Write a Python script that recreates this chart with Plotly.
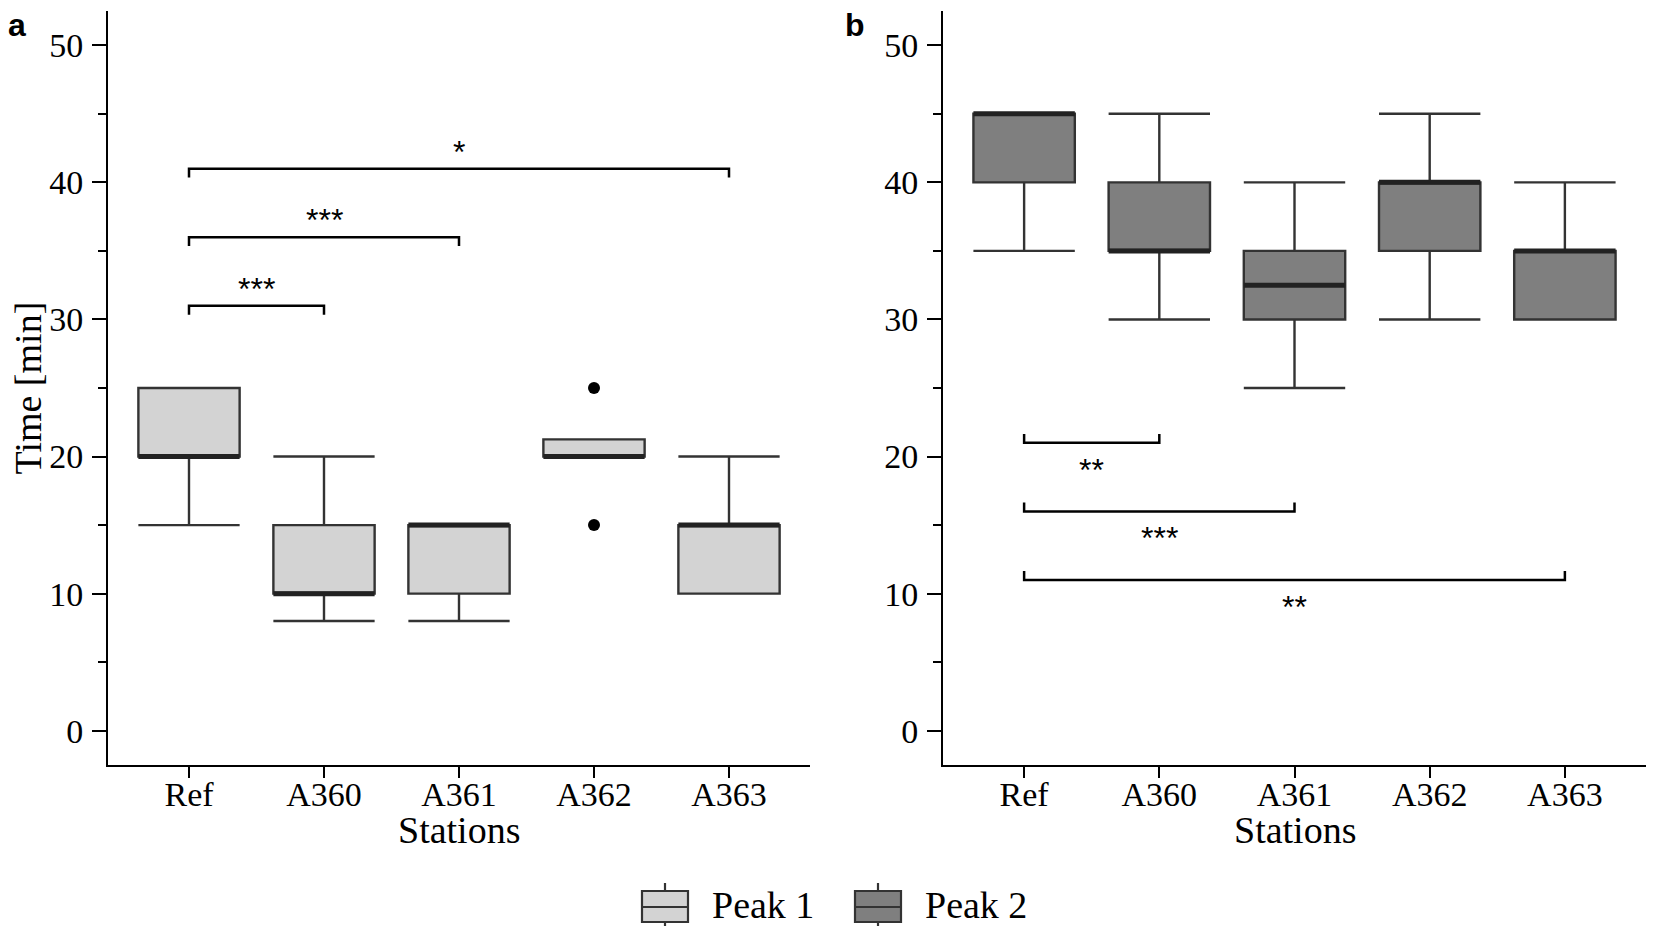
import plotly.graph_objects as go
import numpy as np

# stations on the x axis
stations = ["Ref", "A360", "A361", "A362", "A363"]

# Peak 1 (panel a) box statistics
p1_low = [15, 8, 8, 20, 10]
p1_q1 = [20, 10, 10, 20, 10]
p1_med = [20, 10, 15, 20, 15]
p1_q3 = [25, 15, 15, 21.25, 15]
p1_high = [25, 20, 15, 21.25, 20]
p1_out_station = ["A362", "A362"]
p1_out_value = [25, 15]

# Peak 2 (panel b) box statistics
p2_low = [35, 30, 25, 30, 30]
p2_q1 = [40, 35, 30, 35, 30]
p2_med = [45, 35, 32.5, 40, 35]
p2_q3 = [45, 40, 35, 40, 35]
p2_high = [45, 45, 40, 45, 40]

# significance brackets (all against Ref)
sig_a_to = ["A360", "A361", "A363"]
sig_a_y = [31, 36, 41]
sig_a_text = ["***", "***", "*"]
sig_b_to = ["A360", "A361", "A363"]
sig_b_y = [21, 16, 11]
sig_b_text = ["**", "***", "**"]

series_names = ["Peak 1", "Peak 2"]
series_fill = ["#d3d3d3", "#7f7f7f"]

pos = np.arange(len(stations))
idx = {s: i for i, s in enumerate(stations)}
BOXW = 0.75
SERIF = "Liberation Serif"
SANS = "Liberation Sans"
OUTLINE = "#333333"

# page has an 8px body margin, so the figure is a bit smaller than the window
OFF, W, H = 8, 1638, 918


def px(x):
    return (x - OFF) / W


def py(y):
    return 1 - (y - OFF) / H


fig = go.Figure()


def add_panel(xa, ya, q1, med, q3, low, high, fill, name):
    fig.add_trace(go.Box(
        x=pos, q1=q1, median=med, q3=q3, lowerfence=low, upperfence=high,
        width=BOXW, whiskerwidth=1, fillcolor=fill,
        line=dict(color=OUTLINE, width=2.4), boxpoints=False, showlegend=False,
        name=name, xaxis=xa, yaxis=ya, hoverinfo="skip"))
    # thick median lines (ggplot style)
    mx, my = [], []
    for p, m in zip(pos, med):
        mx += [p - BOXW / 2, p + BOXW / 2, None]
        my += [m, m, None]
    fig.add_trace(go.Scatter(x=mx, y=my, mode="lines", showlegend=False,
                             line=dict(color="#222222", width=5),
                             xaxis=xa, yaxis=ya, hoverinfo="skip"))


def add_brackets(xa, ya, targets, ys, texts, up, label_off):
    tick = 0.65 if up else -0.65
    for t, yv, txt in zip(targets, ys, texts):
        x0, x1 = idx["Ref"], idx[t]
        fig.add_trace(go.Scatter(
            x=[x0, x0, x1, x1], y=[yv + tick, yv, yv, yv + tick],
            mode="lines", showlegend=False, hoverinfo="skip",
            line=dict(color="black", width=2.5), xaxis=xa, yaxis=ya))
        fig.add_annotation(x=(x0 + x1) / 2, y=yv + label_off, xref=xa, yref=ya,
                           text=txt, showarrow=False, xanchor="center", yanchor="middle",
                           font=dict(family=SANS, size=32, color="black"))


add_panel("x", "y", p1_q1, p1_med, p1_q3, p1_low, p1_high, series_fill[0], series_names[0])
fig.add_trace(go.Scatter(x=[idx[s] for s in p1_out_station], y=p1_out_value,
                         mode="markers", showlegend=False, hoverinfo="skip",
                         marker=dict(color="black", size=12), xaxis="x", yaxis="y"))
add_panel("x2", "y2", p2_q1, p2_med, p2_q3, p2_low, p2_high, series_fill[1], series_names[1])

add_brackets("x", "y", sig_a_to, sig_a_y, sig_a_text, False, 1.25)
add_brackets("x2", "y2", sig_b_to, sig_b_y, sig_b_text, True, -1.95)

xcommon = dict(range=[-0.6, 4.6], tickvals=pos, ticktext=stations,
               showline=True, linecolor="black", linewidth=2,
               ticks="outside", ticklen=11, tickwidth=2, tickcolor="black",
               tickfont=dict(family=SERIF, size=34, color="black"),
               ticklabelstandoff=-13,
               showgrid=False, zeroline=False, fixedrange=True)
ycommon = dict(range=[-2.5, 52.5], tick0=0, dtick=10,
               showline=True, linecolor="black", linewidth=2,
               ticks="outside", ticklen=14, tickwidth=2, tickcolor="black",
               minor=dict(dtick=5, tick0=0, ticks="outside", ticklen=8,
                          tickwidth=2, tickcolor="black", showgrid=False),
               tickfont=dict(family=SERIF, size=34, color="black"),
               ticklabelstandoff=2,
               showgrid=False, zeroline=False, domain=[py(765), py(11)])

dom_a = [px(108), px(810)]
dom_b = [px(943), 1.0]

fig.update_layout(
    width=W, height=H,
    margin=dict(l=0, r=0, t=0, b=0),
    plot_bgcolor="white", paper_bgcolor="white",
    showlegend=False,
    xaxis=dict(xcommon, domain=dom_a, anchor="y"),
    yaxis=dict(ycommon, anchor="x"),
    xaxis2=dict(xcommon, domain=dom_b, anchor="y2"),
    yaxis2=dict(ycommon, anchor="x2"),
)

# axis titles and panel letters
for dom in (dom_a, dom_b):
    fig.add_annotation(x=(dom[0] + dom[1]) / 2, y=py(830), xref="paper", yref="paper",
                       text="Stations", showarrow=False, xanchor="center", yanchor="middle",
                       font=dict(family=SERIF, size=38, color="black"))
fig.add_annotation(x=px(27.5), y=25, xref="paper", yref="y", text="Time [min]",
                   textangle=-90, showarrow=False, xanchor="center", yanchor="middle",
                   font=dict(family=SERIF, size=38, color="black"))
for letter, lx in (("a", 17), ("b", 855)):
    fig.add_annotation(x=px(lx), y=py(25), xref="paper", yref="paper", text="<b>%s</b>" % letter,
                       showarrow=False, xanchor="center", yanchor="middle",
                       font=dict(family=SANS, size=32, color="black"))

# legend drawn as ggplot-style box keys
for name, fill, kx in zip(series_names, series_fill, (642, 855)):
    fig.add_shape(type="rect", xref="paper", yref="paper",
                  x0=px(kx), x1=px(kx + 46), y0=py(922), y1=py(891),
                  fillcolor=fill, line=dict(color=OUTLINE, width=2.2))
    fig.add_shape(type="line", xref="paper", yref="paper",
                  x0=px(kx), x1=px(kx + 46), y0=py(907), y1=py(907),
                  line=dict(color=OUTLINE, width=2.2))
    for a, b in ((883, 891), (922, 930)):
        fig.add_shape(type="line", xref="paper", yref="paper",
                      x0=px(kx + 23), x1=px(kx + 23), y0=py(a), y1=py(b),
                      line=dict(color=OUTLINE, width=2.2))
    fig.add_annotation(x=px(kx + 68), y=py(905), xref="paper", yref="paper", text=name,
                       showarrow=False, xanchor="left", yanchor="middle",
                       font=dict(family=SERIF, size=38, color="black"))

fig.write_html("out.html")
